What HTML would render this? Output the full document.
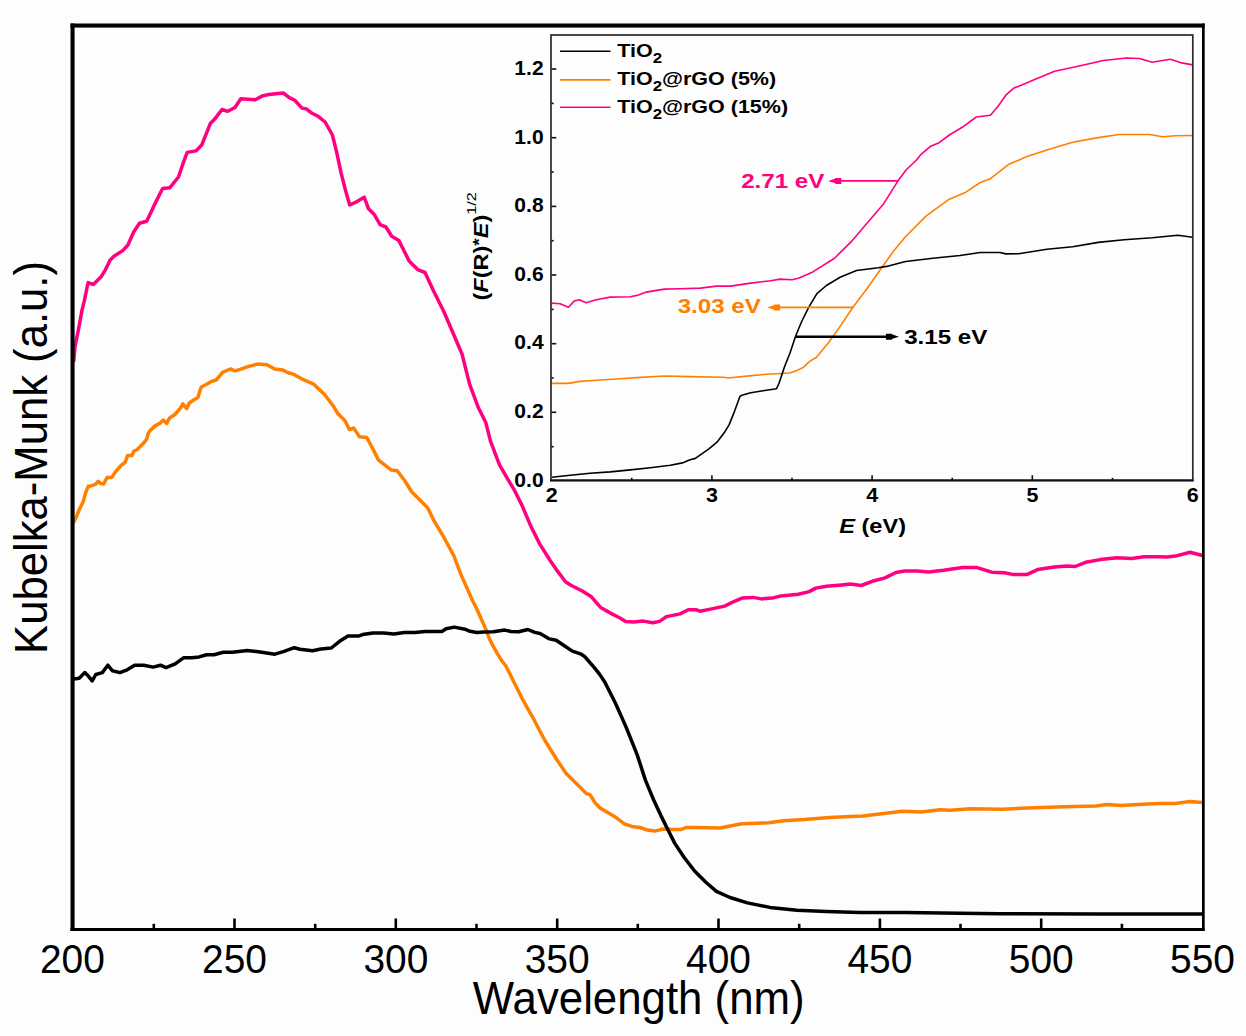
<!DOCTYPE html>
<html><head><meta charset="utf-8"><title>Kubelka-Munk</title>
<style>
html,body{margin:0;padding:0;background:#fdfdfd;}
body{width:1246px;height:1036px;overflow:hidden;}
svg{display:block;}
text{font-family:"Liberation Sans",sans-serif;}
.b{font-weight:bold;}
</style></head><body>
<svg width="1246" height="1036" viewBox="0 0 1246 1036">
<rect x="0" y="0" width="1246" height="1036" fill="#fdfdfd"/>

<g fill="none" stroke-width="3.5" stroke-linejoin="round" stroke-linecap="butt">
<polyline stroke="#ff0080" points="73.6,362.0 74.2,356.0 75.0,346.6 78.8,327.8 82.0,310.2 84.5,300.2 87.0,287.6 88.2,282.6 93.3,284.5 101.4,276.4 105.2,270.1 110.2,260.0 114.0,256.3 122.7,250.6 127.9,245.0 133.7,232.0 139.5,223.3 146.7,221.2 153.9,205.9 162.6,188.5 169.9,187.7 178.5,177.0 182.9,163.9 187.2,152.4 195.9,150.9 201.7,145.1 210.4,123.4 214.7,119.1 222.0,109.5 227.7,111.3 235.0,107.5 240.8,98.8 255.2,99.7 262.5,95.9 268.7,94.5 283.2,93.0 289.0,97.4 294.7,100.3 302.0,108.1 306.3,108.9 312.1,113.3 317.9,116.2 325.1,122.0 332.4,135.0 336.7,152.4 341.0,172.6 345.4,190.0 349.7,205.0 357.0,201.6 364.2,197.2 368.5,208.8 374.3,214.6 380.1,224.7 385.9,227.0 391.7,236.3 398.9,240.6 409.1,260.9 417.7,269.6 425.0,272.5 433.7,291.3 443.8,311.5 452.5,331.8 462.0,354.0 469.5,383.9 478.4,407.8 485.9,422.8 490.4,440.8 499.4,464.7 505.4,475.2 514.4,490.2 521.9,505.1 530.8,526.1 539.8,544.1 549.8,560.0 557.3,570.9 565.5,581.8 570.9,585.2 581.8,590.7 591.4,596.8 601.0,607.8 611.9,613.9 620.0,618.0 625.5,621.4 633.7,622.1 643.3,621.1 652.8,622.8 659.6,621.4 666.4,616.6 680.1,613.9 688.3,609.8 696.5,609.8 700.0,611.2 711.7,608.9 724.7,606.1 733.3,601.8 742.0,598.1 752.8,597.4 761.5,598.9 772.3,598.1 781.0,595.9 798.3,594.2 809.2,591.6 815.7,588.1 826.5,586.2 841.7,584.9 850.3,584.0 861.2,585.5 874.2,580.7 885.0,577.9 895.9,572.5 904.5,571.0 917.5,571.0 928.4,572.1 943.5,570.3 962.5,567.6 977.1,567.6 991.7,572.2 1004.3,572.8 1012.6,574.4 1027.2,574.4 1037.6,569.6 1054.3,567.1 1066.9,565.9 1075.2,566.5 1085.6,562.3 1100.3,559.6 1116.9,557.8 1131.6,558.6 1144.1,556.7 1158.7,556.7 1167.0,557.1 1175.4,556.1 1190.0,552.3 1202.5,555.5"/>
<polyline stroke="#ff8000" points="73.6,523.0 73.9,521.8 76.2,517.2 79.3,509.5 83.2,501.7 85.5,493.2 88.2,486.3 90.9,485.9 95.5,484.3 98.3,481.3 100.2,483.2 103.7,484.0 107.1,477.4 111.8,477.4 115.6,471.6 121.1,465.4 125.0,462.5 127.6,455.6 132.0,455.6 133.7,451.2 137.2,449.5 144.1,442.6 146.7,439.1 148.4,433.0 150.2,430.4 155.4,425.6 159.7,423.4 163.2,420.0 166.7,423.4 169.3,418.2 174.5,414.7 177.1,412.1 180.6,407.8 182.8,403.9 186.7,408.7 189.3,403.0 193.6,400.0 198.0,397.4 199.7,391.3 201.4,387.0 206.6,384.3 211.0,381.7 216.2,380.0 222.6,372.4 230.3,369.0 235.1,370.9 240.0,369.4 249.6,366.1 257.3,364.1 267.0,364.7 274.7,369.0 282.4,369.9 288.2,372.8 294.0,374.4 301.6,378.8 313.2,383.8 324.8,394.8 333.5,406.3 337.8,413.6 345.0,420.8 349.4,429.5 353.7,428.1 359.5,436.8 366.8,437.6 372.6,448.4 378.4,459.9 385.6,465.7 391.4,470.1 397.2,470.7 404.4,480.2 411.7,491.8 418.9,499.0 427.6,507.7 434.8,522.2 443.5,536.7 453.7,555.5 460.9,574.4 472.3,600.0 476.9,609.3 481.6,619.7 486.2,630.1 489.7,639.4 493.2,646.3 497.8,654.4 501.3,660.2 505.9,666.0 509.4,672.9 514.0,682.2 518.6,691.5 523.3,700.7 527.9,708.8 533.7,719.2 544.9,740.5 556.4,759.0 565.7,772.9 577.3,784.5 586.6,793.7 590.0,794.6 595.2,803.0 600.4,808.2 605.6,811.3 616.1,817.6 624.4,823.8 631.7,826.4 640.1,827.5 647.4,830.1 654.7,831.1 663.0,829.0 673.5,829.6 680.8,829.6 686.0,827.5 694.3,827.5 720.0,828.0 741.7,823.8 768.9,822.8 783.5,820.7 804.3,819.6 829.4,817.6 862.8,816.1 883.6,813.4 902.4,811.3 921.2,811.9 940.0,809.8 950.0,810.3 970.9,808.8 1002.2,809.2 1033.5,807.8 1064.8,806.7 1096.1,806.1 1106.5,804.6 1121.1,805.5 1137.8,804.6 1158.7,803.4 1175.4,803.4 1190.0,801.5 1202.5,802.5"/>
<polyline stroke="#000000" points="72.5,680.0 73.7,679.1 79.2,678.2 84.8,672.6 88.5,676.3 92.2,680.9 95.8,674.5 102.3,672.6 107.8,665.2 112.5,670.8 119.8,672.6 127.2,669.8 134.6,665.2 143.8,665.2 153.1,667.1 160.5,665.2 166.0,667.6 175.2,663.9 183.5,657.8 191.8,657.8 199.2,656.9 206.6,654.7 214.0,654.7 223.2,652.3 232.5,652.3 247.2,650.5 258.3,651.8 274.9,654.2 284.1,651.4 294.3,647.7 300.0,649.2 312.5,650.7 320.9,649.0 331.3,648.0 339.6,641.3 348.0,636.1 358.4,636.1 362.6,634.6 373.0,633.0 383.5,633.0 393.9,634.0 404.3,632.5 414.8,632.5 425.2,631.5 441.9,631.5 446.1,628.8 454.4,627.1 464.9,629.2 470.0,631.3 476.9,632.4 483.6,631.9 493.2,631.8 504.7,630.1 511.0,631.5 518.6,631.8 527.9,629.5 534.8,632.4 540.0,633.5 549.5,638.9 556.2,640.3 564.3,645.7 572.4,651.1 580.5,653.8 584.6,656.5 594.1,667.3 599.5,674.1 604.9,682.2 610.3,693.0 615.7,703.8 621.1,715.9 626.5,728.1 631.9,741.6 637.3,755.1 645.4,780.1 653.1,798.7 660.9,815.6 667.8,829.5 674.8,843.4 684.0,857.3 694.8,871.2 705.6,882.0 716.4,891.3 730.0,897.5 747.4,902.9 769.9,907.4 796.9,910.3 826.1,911.5 859.8,912.4 904.7,912.4 960.0,913.3 1000.0,913.8 1100.0,914.0 1202.5,914.0"/>
</g>
<g fill="#000">
<rect x="70.5" y="23.5" width="4.1" height="907.5"/>
<rect x="70.5" y="23.5" width="1134" height="4.1"/>
<rect x="1202" y="23.5" width="2.7" height="907.5"/>
<rect x="70.5" y="928" width="1134" height="3"/>
</g>
<g stroke="#000" stroke-width="2.6">
<line x1="153.8" y1="923.8" x2="153.8" y2="929"/>
<line x1="234.5" y1="918.5" x2="234.5" y2="929"/>
<line x1="315.2" y1="923.8" x2="315.2" y2="929"/>
<line x1="395.8" y1="918.5" x2="395.8" y2="929"/>
<line x1="476.5" y1="923.8" x2="476.5" y2="929"/>
<line x1="557.2" y1="918.5" x2="557.2" y2="929"/>
<line x1="637.8" y1="923.8" x2="637.8" y2="929"/>
<line x1="718.5" y1="918.5" x2="718.5" y2="929"/>
<line x1="799.2" y1="923.8" x2="799.2" y2="929"/>
<line x1="879.9" y1="918.5" x2="879.9" y2="929"/>
<line x1="960.5" y1="923.8" x2="960.5" y2="929"/>
<line x1="1041.2" y1="918.5" x2="1041.2" y2="929"/>
<line x1="1121.9" y1="923.8" x2="1121.9" y2="929"/>
</g>
<text transform="translate(72.40,973.00) scale(0.940,1.000)" font-size="41.4" text-anchor="middle">200</text>
<text transform="translate(234.50,973.00) scale(0.940,1.000)" font-size="41.4" text-anchor="middle">250</text>
<text transform="translate(395.84,973.00) scale(0.940,1.000)" font-size="41.4" text-anchor="middle">300</text>
<text transform="translate(557.18,973.00) scale(0.940,1.000)" font-size="41.4" text-anchor="middle">350</text>
<text transform="translate(718.52,973.00) scale(0.940,1.000)" font-size="41.4" text-anchor="middle">400</text>
<text transform="translate(879.86,973.00) scale(0.940,1.000)" font-size="41.4" text-anchor="middle">450</text>
<text transform="translate(1041.20,973.00) scale(0.940,1.000)" font-size="41.4" text-anchor="middle">500</text>
<text transform="translate(1202.54,973.00) scale(0.940,1.000)" font-size="41.4" text-anchor="middle">550</text>
<text transform="translate(638.70,1014.00) scale(0.952,1.000)" font-size="46" text-anchor="middle">Wavelength (nm)</text>
<text transform="translate(46.60,457.50) rotate(-90) scale(0.949,1.000)" font-size="46" text-anchor="middle">Kubelka-Munk (a.u.)</text>
<g fill="none" stroke-width="1.6" stroke-linejoin="round">
<polyline stroke="#ff0080" points="551.5,303.1 560.0,303.7 568.5,307.2 574.1,301.1 579.1,299.7 586.1,302.7 596.1,299.7 610.2,297.1 630.3,296.7 638.3,295.1 646.3,292.1 664.4,289.1 680.4,288.7 700.5,288.1 716.5,286.1 730.6,286.1 750.6,283.1 770.7,280.7 780.0,279.1 792.1,279.8 799.2,277.9 812.8,271.9 834.6,258.2 851.0,241.9 867.4,222.8 883.7,203.7 897.4,181.8 906.0,170.0 916.5,160.0 921.1,154.3 930.1,146.6 939.1,142.7 949.3,135.0 962.2,127.3 976.3,117.0 990.4,115.2 998.1,106.3 1005.8,95.2 1013.5,88.3 1034.1,79.8 1054.6,71.3 1080.3,65.7 1103.4,60.5 1126.5,58.0 1139.4,58.5 1152.2,62.3 1170.2,59.3 1180.5,62.6 1192.5,64.9"/>
<polyline stroke="#ff8000" points="551.5,383.4 568.1,383.4 580.1,381.4 600.2,380.0 620.2,378.8 640.3,377.4 664.4,376.0 690.0,376.6 723.8,377.3 727.8,378.0 749.5,375.9 765.7,374.3 781.9,373.5 790.0,373.0 798.1,369.9 803.5,367.2 810.0,361.1 816.2,357.5 828.3,343.0 840.3,326.1 852.4,308.0 866.9,288.7 881.3,268.2 893.4,251.3 905.7,236.5 926.2,215.9 949.3,199.2 964.7,192.8 980.2,182.5 990.4,178.7 1008.4,164.6 1026.4,156.8 1046.9,149.9 1072.6,142.2 1098.3,137.6 1118.8,134.5 1149.6,134.5 1162.5,136.8 1175.3,135.8 1192.5,135.5"/>
<polyline stroke="#000000" points="552.0,477.3 570.1,475.3 590.1,473.3 610.2,471.9 630.3,469.9 650.3,467.7 670.4,465.3 682.4,462.9 690.0,459.7 695.4,458.4 708.9,448.9 717.0,442.2 725.1,431.4 729.2,424.6 734.6,411.1 740.0,396.2 742.7,394.9 750.8,392.8 763.0,390.8 776.5,388.8 779.2,382.7 784.6,366.5 790.0,353.0 795.4,336.8 798.1,330.0 801.9,321.0 808.7,307.3 816.9,293.7 826.4,285.5 840.1,277.3 856.5,270.5 878.3,267.8 886.5,266.4 905.6,261.5 932.9,258.2 960.1,255.5 980.2,252.5 1000.0,252.5 1005.8,253.9 1018.7,253.7 1046.9,249.3 1072.6,246.7 1098.3,242.4 1124.0,239.8 1152.2,237.7 1177.9,235.2 1192.5,237.2"/>
</g>
<g fill="none" stroke="#2a2a2a">
<rect x="551" y="35" width="641.8" height="445.3" stroke-width="1.7"/>
</g>
<line x1="550" y1="480.5" x2="1193.6" y2="480.5" stroke="#111" stroke-width="2"/>
<g stroke="#111" stroke-width="1.6">
<line x1="551.5" y1="446.7" x2="553.7" y2="446.7"/>
<line x1="551.5" y1="412.3" x2="556.3" y2="412.3"/>
<line x1="551.5" y1="378.0" x2="553.7" y2="378.0"/>
<line x1="551.5" y1="343.7" x2="556.3" y2="343.7"/>
<line x1="551.5" y1="309.4" x2="553.7" y2="309.4"/>
<line x1="551.5" y1="275.0" x2="556.3" y2="275.0"/>
<line x1="551.5" y1="240.7" x2="553.7" y2="240.7"/>
<line x1="551.5" y1="206.4" x2="556.3" y2="206.4"/>
<line x1="551.5" y1="172.0" x2="553.7" y2="172.0"/>
<line x1="551.5" y1="137.7" x2="556.3" y2="137.7"/>
<line x1="551.5" y1="103.4" x2="553.7" y2="103.4"/>
<line x1="551.5" y1="69.0" x2="556.3" y2="69.0"/>
<line x1="631.7" y1="480" x2="631.7" y2="477.8"/>
<line x1="711.9" y1="480" x2="711.9" y2="475.2"/>
<line x1="792.0" y1="480" x2="792.0" y2="477.8"/>
<line x1="872.1" y1="480" x2="872.1" y2="475.2"/>
<line x1="952.2" y1="480" x2="952.2" y2="477.8"/>
<line x1="1032.3" y1="480" x2="1032.3" y2="475.2"/>
<line x1="1112.5" y1="480" x2="1112.5" y2="477.8"/>
</g>
<text transform="translate(543.60,486.80) scale(1.080,1.000)" font-size="19.5" font-weight="bold" text-anchor="end">0.0</text>
<text transform="translate(543.60,418.14) scale(1.080,1.000)" font-size="19.5" font-weight="bold" text-anchor="end">0.2</text>
<text transform="translate(543.60,349.48) scale(1.080,1.000)" font-size="19.5" font-weight="bold" text-anchor="end">0.4</text>
<text transform="translate(543.60,280.82) scale(1.080,1.000)" font-size="19.5" font-weight="bold" text-anchor="end">0.6</text>
<text transform="translate(543.60,212.16) scale(1.080,1.000)" font-size="19.5" font-weight="bold" text-anchor="end">0.8</text>
<text transform="translate(543.60,143.50) scale(1.080,1.000)" font-size="19.5" font-weight="bold" text-anchor="end">1.0</text>
<text transform="translate(543.60,74.84) scale(1.080,1.000)" font-size="19.5" font-weight="bold" text-anchor="end">1.2</text>
<text transform="translate(551.60,501.60) scale(1.100,1.000)" font-size="19.5" font-weight="bold" text-anchor="middle">2</text>
<text transform="translate(711.85,501.60) scale(1.100,1.000)" font-size="19.5" font-weight="bold" text-anchor="middle">3</text>
<text transform="translate(872.10,501.60) scale(1.100,1.000)" font-size="19.5" font-weight="bold" text-anchor="middle">4</text>
<text transform="translate(1032.35,501.60) scale(1.100,1.000)" font-size="19.5" font-weight="bold" text-anchor="middle">5</text>
<text transform="translate(1192.60,501.60) scale(1.100,1.000)" font-size="19.5" font-weight="bold" text-anchor="middle">6</text>
<text transform="translate(839.20,532.90) scale(1.150,1.000)" font-size="20.5" font-weight="bold"><tspan font-style="italic">E</tspan> (eV)</text>
<text transform="translate(487.50,300.50) rotate(-90) scale(1.205,1.000)" font-size="19.5" font-weight="bold">(<tspan font-style="italic">F</tspan>(R)<tspan font-size="16" dy="-3">*</tspan><tspan dy="3" font-style="italic">E</tspan>)<tspan font-size="13.5" font-weight="normal" dy="-11.5">1/2</tspan></text>
<g stroke-width="1.6">
<line x1="560" y1="51.2" x2="610.5" y2="51.2" stroke="#000000"/>
<line x1="560" y1="79.9" x2="610.5" y2="79.9" stroke="#ff8000"/>
<line x1="560" y1="107.2" x2="610.5" y2="107.2" stroke="#ff0080"/>
</g>
<text transform="translate(617.20,57.20) scale(1.163,1.000)" font-size="18.5" font-weight="bold">TiO<tspan font-size="14.5" dy="5.5">2</tspan></text>
<text transform="translate(617.20,85.30) scale(1.163,1.000)" font-size="18.5" font-weight="bold">TiO<tspan font-size="14.5" dy="5.5">2</tspan><tspan dy="-5.5">@rGO (5%)</tspan></text>
<text transform="translate(617.20,113.40) scale(1.163,1.000)" font-size="18.5" font-weight="bold">TiO<tspan font-size="14.5" dy="5.5">2</tspan><tspan dy="-5.5">@rGO (15%)</tspan></text>
<line x1="898.2" y1="180.9" x2="837.3" y2="180.9" stroke="#ff0080" stroke-width="1.6"/><polygon points="828.3,180.9 835.3,178.5 835.3,177.9 841.3,177.9 841.3,183.9 835.3,183.9 835.3,183.3" fill="#ff0080"/>
<line x1="853.7" y1="307.4" x2="776.2" y2="307.4" stroke="#ff8000" stroke-width="1.6"/><polygon points="767.2,307.4 774.2,305.0 774.2,304.4 780.2,304.4 780.2,310.4 774.2,310.4 774.2,309.8" fill="#ff8000"/>
<line x1="795.7" y1="336.7" x2="889.9" y2="336.7" stroke="#000000" stroke-width="2.5"/><polygon points="898.9,336.7 891.9,334.3 891.9,333.7 885.9,333.7 885.9,339.7 891.9,339.7 891.9,339.1" fill="#000000"/>
<text transform="translate(741.20,188.20) scale(1.150,1.000)" font-size="21" font-weight="bold" fill="#ff0080">2.71 eV</text>
<text transform="translate(677.70,313.20) scale(1.150,1.000)" font-size="21" font-weight="bold" fill="#ff8000">3.03 eV</text>
<text transform="translate(904.20,344.40) scale(1.150,1.000)" font-size="21" font-weight="bold">3.15 eV</text>
</svg>
</body></html>
